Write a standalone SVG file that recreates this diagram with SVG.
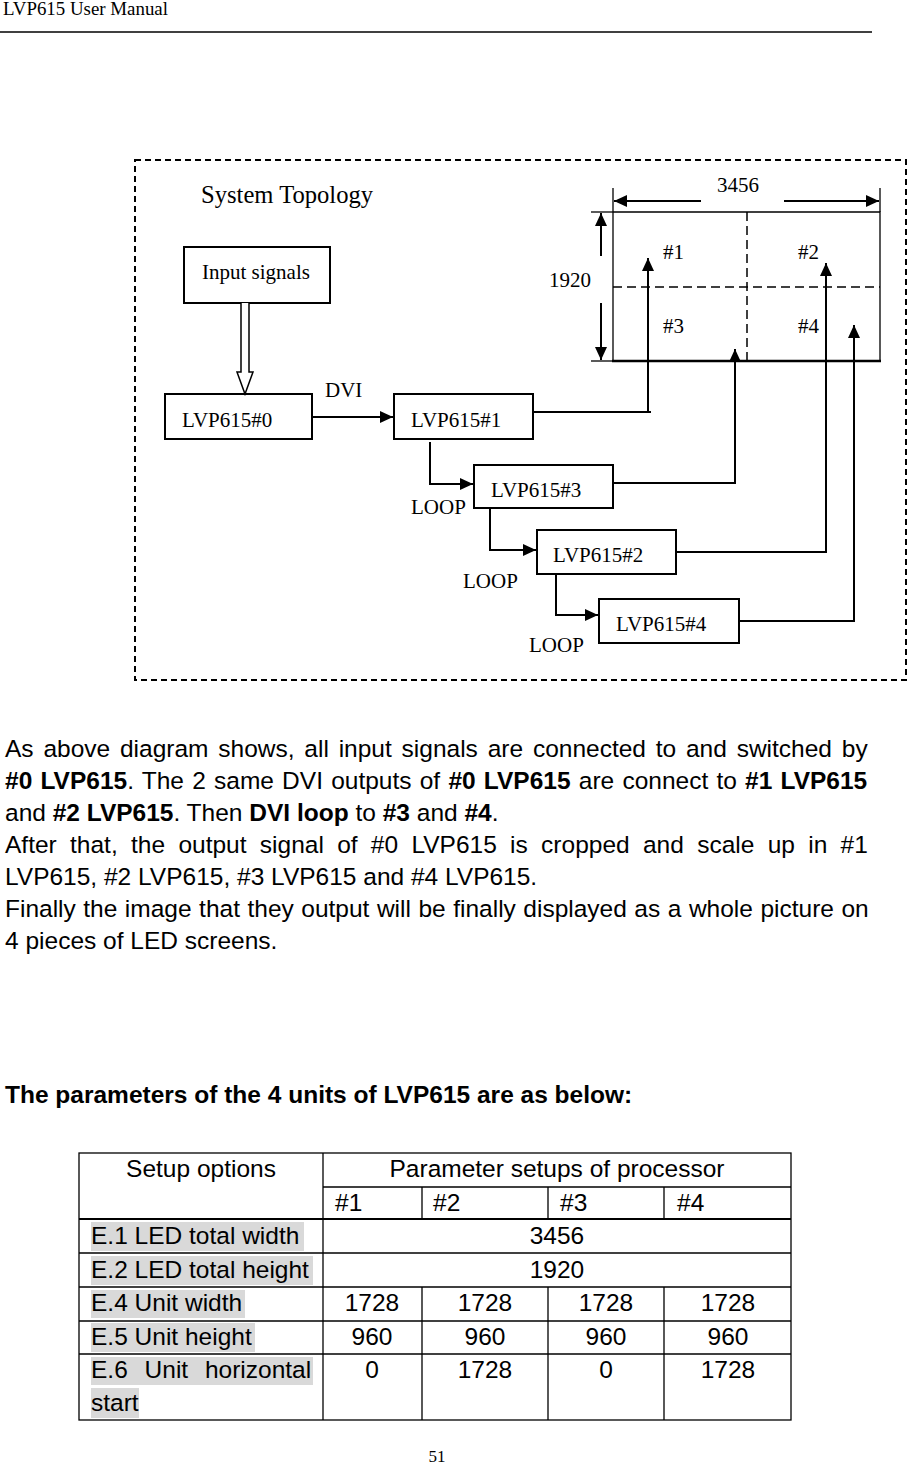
<svg xmlns="http://www.w3.org/2000/svg" width="907" height="1468" viewBox="0 0 907 1468">
<style>
.serif{font-family:"Liberation Serif","Times New Roman",serif;fill:#000}
.d{font-size:21px}
.sans{font-family:"Liberation Sans",Arial,sans-serif;fill:#000;font-size:24.5px}
.b{font-weight:bold}
.box{fill:#fff;stroke:#000;stroke-width:2}
.ln{fill:none;stroke:#000;stroke-width:2}
.tl{stroke:#000;stroke-width:1.3;fill:none}
.hl{fill:#d9d9d9}
</style>
<defs>
<marker id="ah" markerUnits="userSpaceOnUse" markerWidth="14" markerHeight="13" refX="13" refY="6" orient="auto">
<path d="M0,0 L13,6 L0,12 z" fill="#000"/>
</marker>
</defs>

<rect width="907" height="1468" fill="#fff"/>

<!-- page header -->
<g id="header">
<text class="serif" x="3" y="15" font-size="18" textLength="165" lengthAdjust="spacingAndGlyphs">LVP615 User Manual</text>
<line x1="0" y1="32" x2="872" y2="32" stroke="#000" stroke-width="1.5"/>
</g>

<!-- diagram frame -->
<g id="frame">
<rect x="135" y="160" width="771" height="520" fill="none" stroke="#000" stroke-width="2" stroke-dasharray="6,4"/>
<text class="serif" x="201" y="203" font-size="24.6">System Topology</text>
</g>

<!-- LED screen -->
<g id="screen">
<path d="M613,212 H880 V361" class="tl" stroke-width="1.5"/>
<line x1="613" y1="212" x2="613" y2="361" class="tl" stroke-width="1.5"/>
<line x1="612" y1="361" x2="881" y2="361" stroke="#000" stroke-width="2.5"/>
<line x1="613" y1="287" x2="880" y2="287" stroke="#000" stroke-width="1.5" stroke-dasharray="9,5"/>
<line x1="747" y1="212" x2="747" y2="361" stroke="#000" stroke-width="1.5" stroke-dasharray="9,5"/>
<text class="serif d" x="663" y="259">#1</text>
<text class="serif d" x="798" y="259">#2</text>
<text class="serif d" x="663" y="333">#3</text>
<text class="serif d" x="798" y="333">#4</text>
</g>

<!-- dimensions -->
<g id="dimensions">
<line x1="613" y1="188" x2="613" y2="212" class="tl"/>
<line x1="880" y1="188" x2="880" y2="212" class="tl"/>
<line x1="701" y1="201" x2="614" y2="201" class="ln" marker-end="url(#ah)"/>
<line x1="784" y1="201" x2="879" y2="201" class="ln" marker-end="url(#ah)"/>
<text class="serif d" x="717" y="192">3456</text>
<line x1="591" y1="212" x2="613" y2="212" class="tl"/>
<line x1="591" y1="361" x2="613" y2="361" class="tl"/>
<line x1="601" y1="256" x2="601" y2="213" class="ln" marker-end="url(#ah)"/>
<line x1="601" y1="303" x2="601" y2="360" class="ln" marker-end="url(#ah)"/>
<text class="serif d" x="549" y="287">1920</text>
</g>

<!-- nodes -->
<g id="input-signals">
<rect x="184" y="247" width="146" height="56" class="box"/>
<text class="serif d" x="202" y="279">Input signals</text>
</g>
<g id="lvp0">
<rect x="165" y="394" width="147" height="45" class="box"/>
<text class="serif d" x="182" y="427">LVP615#0</text>
</g>
<g id="lvp1">
<rect x="394" y="394" width="139" height="45" class="box"/>
<text class="serif d" x="411" y="427">LVP615#1</text>
</g>
<g id="lvp3">
<rect x="474" y="465" width="139" height="43" class="box"/>
<text class="serif d" x="491" y="497">LVP615#3</text>
</g>
<g id="lvp2">
<rect x="537" y="530" width="139" height="44" class="box"/>
<text class="serif d" x="553" y="562">LVP615#2</text>
</g>
<g id="lvp4">
<rect x="599" y="599" width="140" height="44" class="box"/>
<text class="serif d" x="616" y="631">LVP615#4</text>
</g>

<!-- connectors -->
<g id="connectors">
<path d="M241,303 V372 H237 L245,394 L253,372 H249 V303" fill="#fff" stroke="#000" stroke-width="1.5"/>
<line x1="312" y1="417" x2="393" y2="417" class="ln" marker-end="url(#ah)"/>
<text class="serif d" x="325" y="397">DVI</text>
<path d="M533,412 H651" class="ln"/>
<path d="M648,412 V258" class="ln" marker-end="url(#ah)"/>
<path d="M613,483 H735 V349" class="ln" marker-end="url(#ah)"/>
<path d="M676,552 H826 V263" class="ln" marker-end="url(#ah)"/>
<path d="M739,621 H854 V325" class="ln" marker-end="url(#ah)"/>
<path d="M430,442 V484 H473" class="ln" marker-end="url(#ah)"/>
<path d="M490,508 V550 H536" class="ln" marker-end="url(#ah)"/>
<path d="M556,574 V615 H598" class="ln" marker-end="url(#ah)"/>
<text class="serif d" x="411" y="514">LOOP</text>
<text class="serif d" x="463" y="588">LOOP</text>
<text class="serif d" x="529" y="652">LOOP</text>
</g>

<!-- paragraph -->
<g id="paragraph">
<text class="sans" x="5" y="757" word-spacing="3">As above diagram shows, all input signals are connected to and switched by</text>
<text class="sans" x="5" y="789" word-spacing="1.4"><tspan class="b">#0 LVP615</tspan>. The 2 same DVI outputs of <tspan class="b">#0 LVP615</tspan> are connect to <tspan class="b">#1 LVP615</tspan></text>
<text class="sans" x="5" y="821">and <tspan class="b">#2 LVP615</tspan>. Then <tspan class="b">DVI loop</tspan> to <tspan class="b">#3</tspan> and <tspan class="b">#4</tspan>.</text>
<text class="sans" x="5" y="853" word-spacing="6.5">After that, the output signal of #0 LVP615 is cropped and scale up in #1</text>
<text class="sans" x="5" y="885">LVP615, #2 LVP615, #3 LVP615 and #4 LVP615.</text>
<text class="sans" x="5" y="917" word-spacing="0.7">Finally the image that they output will be finally displayed as a whole picture on</text>
<text class="sans" x="5" y="949">4 pieces of LED screens.</text>
<text class="sans b" x="5" y="1103" font-size="24.8">The parameters of the 4 units of LVP615 are as below:</text>
</g>

<!-- table -->
<g id="table">
<rect class="hl" x="91" y="1222" width="213" height="29"/>
<rect class="hl" x="91" y="1256" width="222" height="29"/>
<rect class="hl" x="91" y="1290" width="154" height="28"/>
<rect class="hl" x="91" y="1323" width="164" height="29"/>
<rect class="hl" x="91" y="1357" width="222" height="28"/>
<rect class="hl" x="91" y="1388" width="48" height="30"/>
<rect x="79" y="1153" width="712" height="267" class="tl"/>
<line x1="323" y1="1153" x2="323" y2="1420" class="tl"/>
<line x1="323" y1="1187" x2="791" y2="1187" class="tl"/>
<line x1="79" y1="1219" x2="791" y2="1219" stroke="#000" stroke-width="2.2"/>
<line x1="79" y1="1253" x2="791" y2="1253" class="tl"/>
<line x1="79" y1="1287" x2="791" y2="1287" class="tl"/>
<line x1="79" y1="1321" x2="791" y2="1321" class="tl"/>
<line x1="79" y1="1354" x2="791" y2="1354" class="tl"/>
<path d="M422,1187 V1219 M548,1187 V1219 M664,1187 V1219 M422,1287 V1420 M548,1287 V1420 M664,1287 V1420" class="tl"/>
<text class="sans" x="201" y="1177" text-anchor="middle">Setup options</text>
<text class="sans" x="557" y="1177" text-anchor="middle">Parameter setups of processor</text>
<text class="sans" x="335" y="1211">#1</text>
<text class="sans" x="433" y="1211">#2</text>
<text class="sans" x="560" y="1211">#3</text>
<text class="sans" x="677" y="1211">#4</text>
<text class="sans" x="91" y="1244">E.1 LED total width</text>
<text class="sans" x="557" y="1244" text-anchor="middle">3456</text>
<text class="sans" x="91" y="1278">E.2 LED total height</text>
<text class="sans" x="557" y="1278" text-anchor="middle">1920</text>
<text class="sans" x="91" y="1311">E.4 Unit width</text>
<text class="sans" x="372" y="1311" text-anchor="middle">1728</text>
<text class="sans" x="485" y="1311" text-anchor="middle">1728</text>
<text class="sans" x="606" y="1311" text-anchor="middle">1728</text>
<text class="sans" x="728" y="1311" text-anchor="middle">1728</text>
<text class="sans" x="91" y="1345">E.5 Unit height</text>
<text class="sans" x="372" y="1345" text-anchor="middle">960</text>
<text class="sans" x="485" y="1345" text-anchor="middle">960</text>
<text class="sans" x="606" y="1345" text-anchor="middle">960</text>
<text class="sans" x="728" y="1345" text-anchor="middle">960</text>
<text class="sans" x="91" y="1378" word-spacing="10">E.6 Unit horizontal</text>
<text class="sans" x="91" y="1411">start</text>
<text class="sans" x="372" y="1378" text-anchor="middle">0</text>
<text class="sans" x="485" y="1378" text-anchor="middle">1728</text>
<text class="sans" x="606" y="1378" text-anchor="middle">0</text>
<text class="sans" x="728" y="1378" text-anchor="middle">1728</text>
</g>

<g id="footer">
<text class="serif" x="437" y="1462" font-size="17" text-anchor="middle">51</text>
</g>
</svg>
